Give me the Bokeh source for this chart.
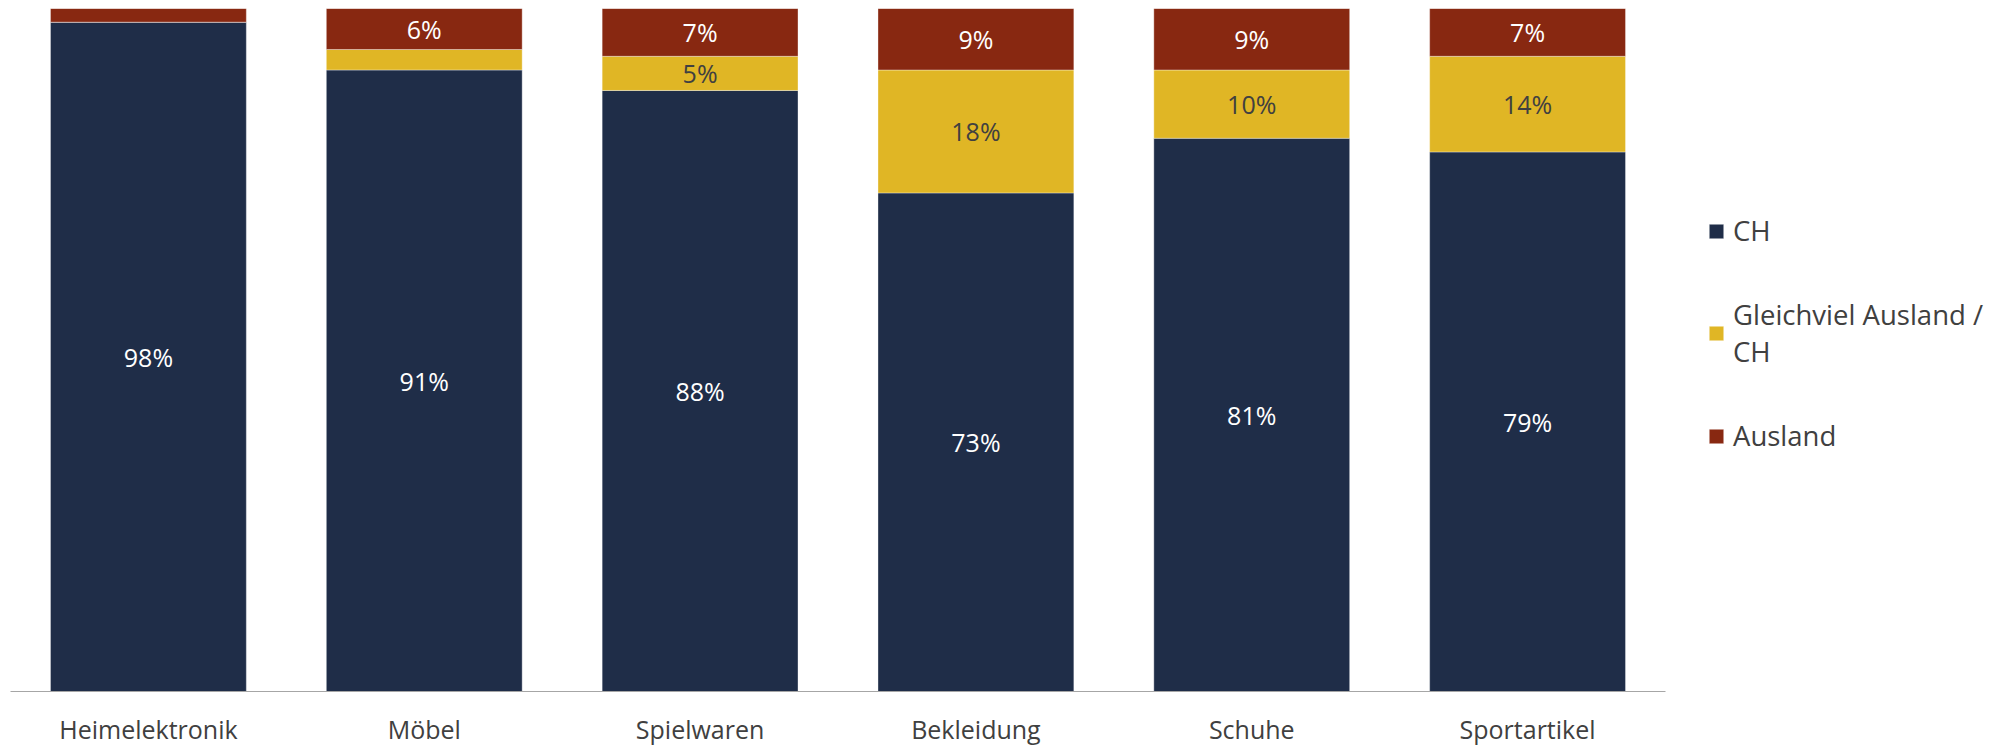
from bokeh.plotting import figure
from bokeh.models import ColumnDataSource, FactorRange, Range1d, Legend, LegendItem
from bokeh.embed import file_html
from bokeh.resources import INLINE
from bokeh.core.properties import value

categories = ["Heimelektronik", "Möbel", "Spielwaren", "Bekleidung", "Schuhe", "Sportartikel"]
ch = [98, 91, 88, 73, 81, 79]
gleich = [0, 3, 5, 18, 10, 14]
ausland = [2, 6, 7, 9, 9, 7]
series_keys = ["ch", "gleich", "ausland"]
series_names = ["CH", "Gleichviel Ausland /\nCH", "Ausland"]
colors = ["#1F2D48", "#E0B625", "#882811"]
label_colors = ["#FFFFFF", "#404040", "#FFFFFF"]
label_min = 5
FONT = "Open Sans"

src = ColumnDataSource(dict(cat=categories, ch=ch, gleich=gleich, ausland=ausland))

p = figure(x_range=FactorRange(*categories, range_padding=0), y_range=Range1d(0, 100),
           frame_width=1655, frame_height=683, output_backend="svg", toolbar_location=None,
           min_border_left=10, min_border_top=8, min_border_bottom=40, min_border_right=0)
p.outline_line_color = None
p.xgrid.visible = False
p.ygrid.visible = False
p.yaxis.visible = False
p.background_fill_color = "white"
p.border_fill_color = "white"

renderers = p.vbar_stack(series_keys, x="cat", width=0.71, color=colors, source=src,
                         line_color="white", line_alpha=0.35, line_width=1)

# data labels
data = dict(ch=ch, gleich=gleich, ausland=ausland)
base = [0] * len(categories)
for key, tc in zip(series_keys, label_colors):
    vals = data[key]
    xs, ys, ts = [], [], []
    for i, v in enumerate(vals):
        if v >= label_min:
            xs.append(categories[i])
            ys.append(base[i] + v / 2)
            ts.append(f"{v}%")
        base[i] += v
    p.text(x=xs, y=ys, text=ts, text_align="center", text_baseline="middle",
           text_color=tc, text_font=value(FONT), text_font_size="25px")

ax = p.xaxis[0]
ax.axis_line_color = "#A6A6A6"
ax.axis_line_width = 1
ax.major_tick_line_color = None
ax.minor_tick_line_color = None
ax.major_tick_out = 0
ax.major_tick_in = 0
ax.major_label_standoff = 20
ax.major_label_text_font = FONT
ax.major_label_text_font_size = "25px"
ax.major_label_text_color = "#404040"
ax.major_label_text_line_height = 1.0

legend = Legend(items=[LegendItem(label=n, renderers=[r]) for n, r in zip(series_names, renderers)],
                location=(42, 237), glyph_width=18, glyph_height=18, label_standoff=8,
                spacing=47, padding=0, margin=0, border_line_color=None,
                background_fill_alpha=0, label_text_font=FONT, label_text_line_height=1.3,
                label_text_font_size="27.5px", label_text_color="#404040")
p.add_layout(legend, "right")

open("out.html", "w").write(file_html(p, INLINE))
